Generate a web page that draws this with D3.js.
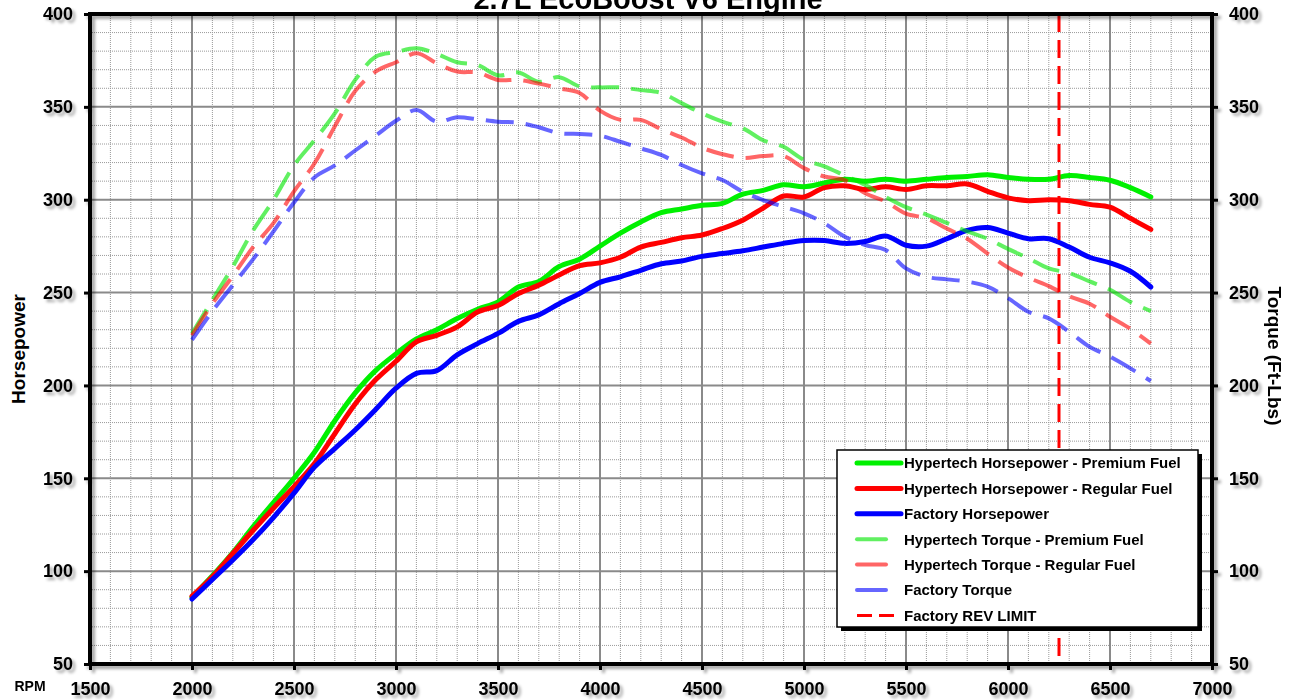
<!DOCTYPE html>
<html>
<head>
<meta charset="utf-8">
<script src="https://cdn.jsdelivr.net/npm/d3@7"></script>
<style>
  html, body { margin: 0; padding: 0; background: #fff; }
  svg { display: block; font-family: "Liberation Sans", Arial, sans-serif; }
</style>
</head>
<body>
<svg id="chart" width="1314" height="700"></svg>
<script>
// ---------------- DATA ----------------
const rpm = [2000,2100,2200,2300,2400,2500,2600,2700,2800,2900,
             3000,3100,3200,3300,3400,3500,3600,3700,3800,3900,
             4000,4100,4200,4300,4400,4500,4600,4700,4800,4900,
             5000,5100,5200,5300,5400,5500,5600,5700,5800,5900,
             6000,6100,6200,6300,6400,6500,6600,6700];

const hpPremium = [86,97.5,110,124,137,150,164,181,196,208,
                   217,225,230,236,241,245,253,256,264,268,
                   275,282,288,293,295,297,298,303,305,308,
                   307,309,311,310,311,310,311,312,312.5,313.5,
                   312,311,311,313,312,310.5,306.5,301.5];

const hpRegular = [86.5,97,109.5,122,134,145.5,158,174,190,203,
                   213,223.5,227,231.5,239.5,243,249.5,254,259.5,264.5,
                   266,269,274.5,277,279.5,281,284.5,289,295.5,302,
                   301.5,306.5,307.5,305.5,307,305.5,307.5,307.5,308.5,304.5,
                   301,299.5,300,299.5,297.5,296,290,284];

const hpFactory = [85,95.5,106,117,129,142,156,166,176,187,
                   198.5,206.5,208,216.5,222.5,228,234.5,238,244,249.5,
                   255.5,258.5,262,265.5,267,269.5,271,272.5,274.5,276.5,
                   278,278,276.5,277.5,280.5,275.5,275,279,283.5,285,
                   282,279,279,274.5,269,266,261.5,253];

const tqPremium = [228,246,264,283.5,300,318.5,332,346.5,364.5,377,
                   379.5,381.5,378.5,374,372.5,367,368.5,363.5,366,361,
                   360.5,360.5,359,357.5,352,346.5,342,338.5,332,328.5,
                   321.5,318,313,308,301.5,296,292,287.5,283,279,
                   273.5,268.5,263,260.5,256,251.5,245,240];

const tqRegular = [227,244,259,274.5,287.5,304.5,319.5,339.5,358.5,369,
                   374,378.8,373.5,369,368.5,364.5,364.5,362.5,360,357.5,
                   348,343,343,338,333.5,328,324.5,322.5,323.5,323.5,
                   317,312.5,310.5,303.5,299,292.5,290,284.5,279,271,
                   263.5,258,253.5,248,244,237,230.5,222.5];

const tqFactory = [224.5,240,254,268,283,298.5,312,318.5,326.5,334.5,
                   342.5,348.3,342,344.4,343.3,342,341.5,339,335.8,335.4,
                   334.5,331.2,327.7,324.1,318.7,314.2,310.6,304.3,299.8,296.2,
                   292.7,287.3,280.1,275.6,272.9,263,258.5,257.1,255.9,253.2,
                   247,239.7,236.1,228.9,220.8,215.5,209.2,202.4];

const revLimit = 6250;

const xTicks = [1500,2000,2500,3000,3500,4000,4500,5000,5500,6000,6500,7000];
const yTicks = [50,100,150,200,250,300,350,400];

const seriesNames = ["Hypertech Horsepower - Premium Fuel","Hypertech Horsepower - Regular Fuel",
                     "Factory Horsepower","Hypertech Torque - Premium Fuel",
                     "Hypertech Torque - Regular Fuel","Factory Torque"];
const revLabel = "Factory REV LIMIT";
const titleText = "2.7L EcoBoost V6 Engine";

// ---------------- LAYOUT ----------------
const svg = d3.select("#chart");
const L = 90, T = 14, R = 1212, B = 664;
const x = d3.scaleLinear().domain([1500, 7000]).range([L, R]);
const y = d3.scaleLinear().domain([50, 400]).range([B, T]);

const defs = svg.append("defs");
const f = defs.append("filter").attr("id","shadow").attr("x","-10%").attr("y","-10%").attr("width","120%").attr("height","120%");
f.append("feDropShadow").attr("dx",3).attr("dy",3).attr("stdDeviation",1.6)
  .attr("flood-color","#000").attr("flood-opacity",0.35);
defs.append("clipPath").attr("id","plotclip").append("rect")
  .attr("x",L).attr("y",T).attr("width",R-L).attr("height",B-T);

// Grid
const grid = svg.append("g");
const minorX = d3.range(1500, 7001, 100);
const minorY = d3.range(50, 401, 10);
grid.selectAll("line.vx").data(minorX.filter(v => v % 500 !== 0)).join("line")
  .attr("x1", d => x(d)).attr("x2", d => x(d)).attr("y1", T).attr("y2", B)
  .attr("stroke", "#9a9a9a").attr("stroke-width", 1).attr("stroke-dasharray", "1,1");
grid.selectAll("line.hy").data(minorY.filter(v => v % 50 !== 0)).join("line")
  .attr("y1", d => y(d)).attr("y2", d => y(d)).attr("x1", L).attr("x2", R)
  .attr("stroke", "#9a9a9a").attr("stroke-width", 1).attr("stroke-dasharray", "1,1");
grid.selectAll("line.mx").data(xTicks).join("line")
  .attr("x1", d => x(d)).attr("x2", d => x(d)).attr("y1", T).attr("y2", B)
  .attr("stroke", "#8a8a8a").attr("stroke-width", 2);
grid.selectAll("line.my").data(yTicks).join("line")
  .attr("y1", d => y(d)).attr("y2", d => y(d)).attr("x1", L).attr("x2", R)
  .attr("stroke", "#8a8a8a").attr("stroke-width", 2);

// Lines
const plot = svg.append("g").attr("clip-path","url(#plotclip)");
const line = d3.line().x(d => x(d[0])).y(d => y(d[1])).curve(d3.curveCatmullRom.alpha(0.5));
const zip = vals => rpm.map((r, i) => [r, vals[i]]);

const torque = [
  {v: tqPremium, c: "rgba(0,230,0,0.62)"},
  {v: tqRegular, c: "rgba(255,0,0,0.6)"},
  {v: tqFactory, c: "rgba(0,0,255,0.6)"}
];
const hp = [
  {v: hpPremium, c: "#00f000"},
  {v: hpRegular, c: "#ff0000"},
  {v: hpFactory, c: "#0000ff"}
];
plot.selectAll("path.hp").data(hp).join("path")
  .attr("d", d => line(zip(d.v))).attr("fill","none").attr("stroke", d => d.c)
  .attr("stroke-width", 5).attr("stroke-linejoin","round").attr("stroke-linecap","round");
plot.selectAll("path.tq").data(torque).join("path")
  .attr("d", d => line(zip(d.v))).attr("fill","none").attr("stroke", d => d.c)
  .attr("stroke-width", 4).attr("stroke-dasharray","28,12").attr("stroke-linecap","butt");

// Rev limit
plot.append("line").attr("x1", x(revLimit)).attr("x2", x(revLimit))
  .attr("y1", T).attr("y2", B).attr("stroke","#ff0000").attr("stroke-width",3)
  .attr("stroke-dasharray","18,8");

// Frame + axes
const frame = svg.append("g").attr("filter","url(#shadow)");
frame.append("rect").attr("x",L).attr("y",T).attr("width",R-L).attr("height",B-T)
  .attr("fill","none").attr("stroke","#000").attr("stroke-width",4);

const styleAxis = g => {
  g.select(".domain").remove();
  g.selectAll(".tick line").attr("stroke","#000").attr("stroke-width",3);
  g.selectAll(".tick text").attr("fill","#000").attr("font-size","18px").attr("font-weight","bold")
    .attr("font-family","'Liberation Sans', Arial, sans-serif");
};
const fmt = d3.format("d");
frame.append("g").attr("transform",`translate(${L},0)`)
  .call(d3.axisLeft(y).tickValues(yTicks).tickFormat(fmt).tickSize(6).tickPadding(11)).call(styleAxis);
frame.append("g").attr("transform",`translate(${R},0)`)
  .call(d3.axisRight(y).tickValues(yTicks).tickFormat(fmt).tickSize(6).tickPadding(11)).call(styleAxis);
frame.append("g").attr("transform",`translate(0,${B})`)
  .call(d3.axisBottom(x).tickValues(xTicks).tickFormat(fmt).tickSize(6).tickPadding(12)).call(styleAxis);

// Axis titles
svg.append("text").attr("x", 30).attr("y", 691).attr("text-anchor","middle")
  .attr("font-size","14px").attr("font-weight","bold").text("RPM");
svg.append("text").attr("transform",`translate(25,349) rotate(-90)`).attr("text-anchor","middle")
  .attr("font-size","19px").attr("font-weight","bold").text("Horsepower");
svg.append("text").attr("transform",`translate(1268,356) rotate(90)`).attr("text-anchor","middle")
  .attr("font-size","19px").attr("font-weight","bold").text("Torque (Ft-Lbs)");

// Title
svg.append("text").attr("x", 648).attr("y", 9).attr("text-anchor","middle")
  .attr("font-size","29px").attr("font-weight","bold").text(titleText);

// Legend
const lg = svg.append("g");
const lx = 837, ly = 450, lw = 361, lh = 177;
lg.append("rect").attr("x", lx+4).attr("y", ly+4).attr("width", lw).attr("height", lh).attr("fill","#000");
lg.append("rect").attr("x", lx).attr("y", ly).attr("width", lw).attr("height", lh)
  .attr("fill","#fff").attr("stroke","#000").attr("stroke-width",1.5);
const legendItems = [
  {name: seriesNames[0], c: hp[0].c, w: 5, len: 44, dash: null},
  {name: seriesNames[1], c: hp[1].c, w: 5, len: 44, dash: null},
  {name: seriesNames[2], c: hp[2].c, w: 5, len: 44, dash: null},
  {name: seriesNames[3], c: torque[0].c, w: 4, len: 29, dash: null},
  {name: seriesNames[4], c: torque[1].c, w: 4, len: 29, dash: null},
  {name: seriesNames[5], c: torque[2].c, w: 4, len: 29, dash: null},
  {name: revLabel, c: "#ff0000", w: 3, len: 38, dash: "15,7"}
];
const rowY = i => 463 + i * 25.4;
const rows = lg.selectAll("g.row").data(legendItems).join("g");
rows.append("line").attr("x1", 857).attr("x2", d => 857 + d.len)
  .attr("y1", (d,i) => rowY(i)).attr("y2", (d,i) => rowY(i))
  .attr("stroke", d => d.c).attr("stroke-width", d => d.w)
  .attr("stroke-linecap", d => d.dash ? "butt" : "round")
  .attr("stroke-dasharray", d => d.dash);
rows.append("text").attr("x", 904).attr("y", (d,i) => rowY(i)).attr("dy","0.36em")
  .attr("font-size","15px").attr("font-weight","bold").text(d => d.name);
</script>
</body>
</html>
